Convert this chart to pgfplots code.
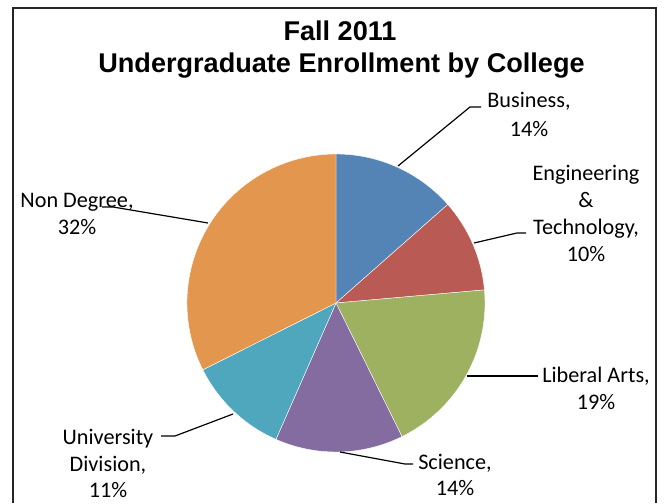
\documentclass[border=0pt]{standalone}
\usepackage{fontspec}
\setmainfont{Carlito}
\newfontfamily\titlefont{Liberation Sans}
\usepackage{pgfplots}
\pgfplotsset{compat=1.18}
\definecolor{cBus}{RGB}{84,132,181}
\definecolor{cEng}{RGB}{185,91,84}
\definecolor{cLA}{RGB}{157,177,96}
\definecolor{cSci}{RGB}{132,108,161}
\definecolor{cUD}{RGB}{78,167,189}
\definecolor{cND}{RGB}{227,150,78}
% shares in percent
\def\vBus{13.5}
\def\vEng{10.1}
\def\vLA{19.1}
\def\vSci{13.9}
\def\vUD{11.0}
\def\vND{32.4}
\pgfmathsetmacro\aA{90}
\pgfmathsetmacro\aB{\aA-3.6*\vBus}
\pgfmathsetmacro\aC{\aB-3.6*\vEng}
\pgfmathsetmacro\aD{\aC-3.6*\vLA}
\pgfmathsetmacro\aE{\aD-3.6*\vSci}
\pgfmathsetmacro\aF{\aE-3.6*\vUD}
\pgfmathsetmacro\aG{\aF-3.6*\vND}
\begin{document}
\begin{tikzpicture}
\begin{axis}[
  width=665bp, height=503bp, scale only axis,
  xmin=0, xmax=665, ymin=0, ymax=503,
  hide axis, clip=false,
]
\path (axis cs:0,0) rectangle (axis cs:665,503);
% frame
\draw[line width=1.6pt, black!85] (axis cs:13,0) -- (axis cs:13,495) -- (axis cs:656,495) -- (axis cs:656,0);
% title
\node[anchor=base, font=\titlefont\bfseries\fontsize{27.2}{32}\selectfont] at (axis cs:340,462) {Fall 2011};
\node[anchor=base, font=\titlefont\bfseries\fontsize{27.2}{32}\selectfont] at (axis cs:341.5,430.3) {Undergraduate Enrollment by College};
% pie slices
\def\pr{149bp}
\fill[cBus, draw=white, line width=0.4pt] (axis cs:336,200) -- ++(\aA:\pr) arc[start angle=\aA, end angle=\aB, radius=\pr] -- cycle;
\fill[cEng, draw=white, line width=0.4pt] (axis cs:336,200) -- ++(\aB:\pr) arc[start angle=\aB, end angle=\aC, radius=\pr] -- cycle;
\fill[cLA, draw=white, line width=0.4pt] (axis cs:336,200) -- ++(\aC:\pr) arc[start angle=\aC, end angle=\aD, radius=\pr] -- cycle;
\fill[cSci, draw=white, line width=0.4pt] (axis cs:336,200) -- ++(\aD:\pr) arc[start angle=\aD, end angle=\aE, radius=\pr] -- cycle;
\fill[cUD, draw=white, line width=0.4pt] (axis cs:336,200) -- ++(\aE:\pr) arc[start angle=\aE, end angle=\aF, radius=\pr] -- cycle;
\fill[cND, draw=white, line width=0.4pt] (axis cs:336,200) -- ++(\aF:\pr) arc[start angle=\aF, end angle=\aG, radius=\pr] -- cycle;
% leader lines
\draw[line width=1.2pt] (axis cs:398,337) -- (axis cs:470,396) -- (axis cs:481,396);
\draw[line width=1.2pt] (axis cs:474,260) -- (axis cs:517,270) -- (axis cs:526,270);
\draw[line width=1.2pt] (axis cs:467,127) -- (axis cs:538,127);
\draw[line width=1.2pt] (axis cs:340,51) -- (axis cs:405,39) -- (axis cs:413,39);
\draw[line width=1.2pt] (axis cs:233,89) -- (axis cs:175,67) -- (axis cs:161,67);
\draw[line width=1.2pt] (axis cs:208,280) -- (axis cs:113,296) -- (axis cs:102,296);
% labels
\tikzset{lab/.style={anchor=base, inner sep=0pt, font=\fontsize{22.3}{27}\selectfont}}
\node[lab] at (axis cs:529,395) {Business,};
\node[lab] at (axis cs:529,366.3) {14\%};
\node[lab] at (axis cs:586,322) {Engineering};
\node[lab] at (axis cs:586,295) {\&};
\node[lab] at (axis cs:586,268) {Technology,};
\node[lab] at (axis cs:586,241) {10\%};
\node[lab] at (axis cs:596,121) {Liberal Arts,};
\node[lab] at (axis cs:596,94) {19\%};
\node[lab] at (axis cs:455,34) {Science,};
\node[lab] at (axis cs:455,8) {14\%};
\node[lab] at (axis cs:108,59) {University};
\node[lab] at (axis cs:108,32) {Division,};
\node[lab] at (axis cs:108,6) {11\%};
\node[lab] at (axis cs:77,295) {Non Degree,};
\node[lab] at (axis cs:77,268) {32\%};
\end{axis}
\end{tikzpicture}
\end{document}
